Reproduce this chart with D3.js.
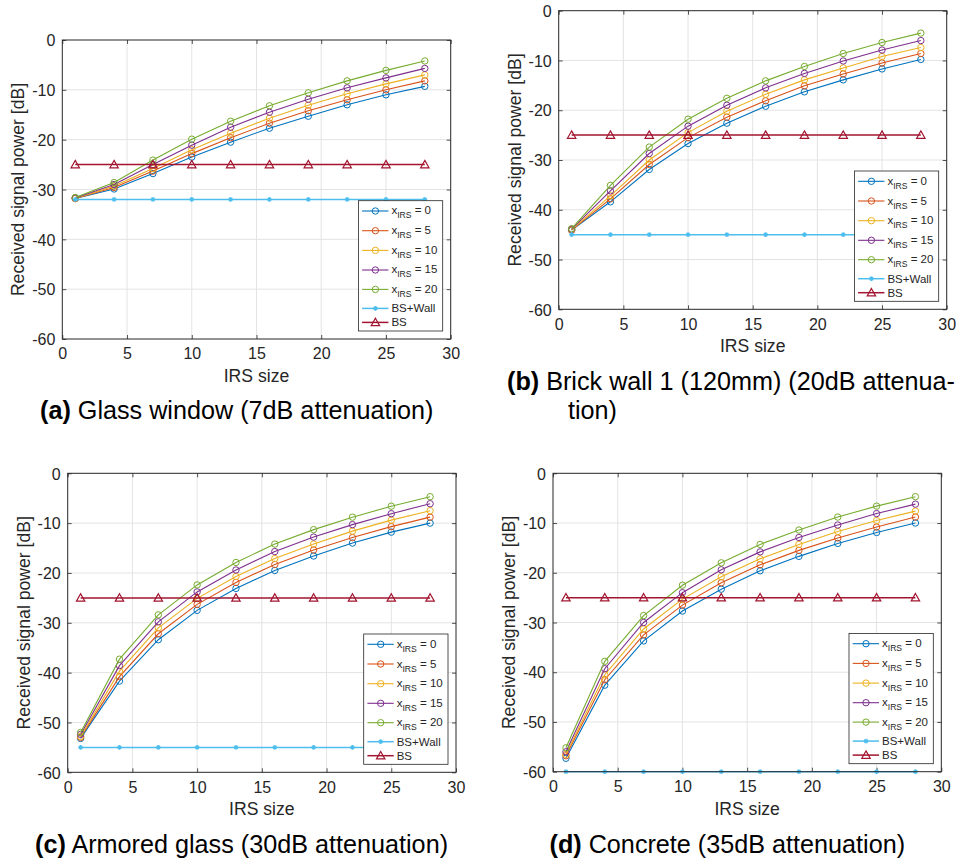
<!DOCTYPE html>
<html>
<head>
<meta charset="utf-8">
<script src="https://cdn.jsdelivr.net/npm/d3@7"></script>
<style>
  html, body { margin: 0; padding: 0; background: #fff; }
  svg { display: block; }
  text { font-family: "Liberation Sans", Arial, Helvetica, sans-serif; }
</style>
</head>
<body>
<svg id="fig" width="959" height="865"></svg>
<script>
// ---------------- data ----------------
const irsSize = [1, 4, 7, 10, 13, 16, 19, 22, 25, 28];
const xIrsValues = [0, 5, 10, 15, 20];
const xTicks = [0, 5, 10, 15, 20, 25, 30];
const yTicks = [0, -10, -20, -30, -40, -50, -60];

// (a) Glass window
const glassIrs0  = [-31.8, -29.9, -26.8, -23.5, -20.5, -17.7, -15.3, -13.0, -11.0, -9.3];
const glassIrs5  = [-31.8, -29.6, -26.3, -22.8, -19.6, -16.7, -14.2, -12.0, -10.0, -8.2];
const glassIrs10 = [-31.8, -29.3, -25.8, -22.0, -18.7, -15.7, -13.1, -10.8, -8.8, -7.0];
const glassIrs15 = [-31.7, -29.0, -25.0, -21.1, -17.5, -14.5, -11.9, -9.6, -7.6, -5.7];
const glassIrs20 = [-31.6, -28.6, -24.1, -19.9, -16.3, -13.2, -10.6, -8.2, -6.1, -4.2];
const glassWall  = [-32, -32, -32, -32, -32, -32, -32, -32, -32, -32];

// (b) Brick wall
const brickIrs0  = [-44.1, -38.4, -31.9, -26.7, -22.6, -19.2, -16.3, -13.9, -11.7, -9.8];
const brickIrs5  = [-44.1, -37.8, -30.9, -25.5, -21.4, -18.1, -15.1, -12.7, -10.5, -8.6];
const brickIrs10 = [-44.0, -37.2, -30.0, -24.5, -20.2, -16.8, -13.9, -11.5, -9.2, -7.4];
const brickIrs15 = [-43.9, -36.2, -28.7, -23.2, -19.0, -15.5, -12.6, -10.1, -7.9, -6.0];
const brickIrs20 = [-43.8, -35.1, -27.4, -21.8, -17.6, -14.1, -11.2, -8.6, -6.4, -4.5];
const brickWall  = [-45, -45, -45, -45, -45, -45, -45, -45, -45, -45];

// (c) Armored glass
const armorIrs0  = [-53.2, -41.7, -33.4, -27.5, -23.1, -19.5, -16.6, -14.0, -11.8, -10.0];
const armorIrs5  = [-53.0, -40.8, -32.2, -26.3, -21.9, -18.3, -15.4, -12.9, -10.7, -8.8];
const armorIrs10 = [-52.8, -39.7, -31.0, -25.1, -20.7, -17.1, -14.2, -11.6, -9.4, -7.5];
const armorIrs15 = [-52.4, -38.6, -29.8, -23.8, -19.4, -15.7, -12.8, -10.3, -8.1, -6.1];
const armorIrs20 = [-52.0, -37.3, -28.4, -22.4, -17.9, -14.2, -11.3, -8.8, -6.6, -4.7];
const armorWall  = [-55, -55, -55, -55, -55, -55, -55, -55, -55, -55];

// (d) Concrete
const concIrs0  = [-57.3, -42.6, -33.7, -27.7, -23.3, -19.6, -16.7, -14.1, -11.9, -10.0];
const concIrs5  = [-56.8, -41.5, -32.5, -26.5, -22.0, -18.4, -15.5, -13.0, -10.8, -8.8];
const concIrs10 = [-56.5, -40.5, -31.3, -25.3, -20.8, -17.2, -14.3, -11.7, -9.5, -7.6];
const concIrs15 = [-56.0, -39.3, -30.0, -24.0, -19.4, -15.8, -12.9, -10.4, -8.1, -6.2];
const concIrs20 = [-55.2, -37.8, -28.6, -22.5, -18.0, -14.3, -11.4, -8.8, -6.6, -4.7];
const concWall  = [-60, -60, -60, -60, -60, -60, -60, -60, -60, -60];

// BS only (no wall)
const bsOnly = [-25, -25, -25, -25, -25, -25, -25, -25, -25, -25];

const captionTags = ["(a)", "(b)", "(c)", "(d)"];
const captionTexts = [
  [" Glass window (7dB attenuation)"],
  [" Brick wall 1 (120mm) (20dB attenua-", "tion)"],
  [" Armored glass (30dB attenuation)"],
  [" Concrete (35dB attenuation)"]
];

// ---------------- styling / layout ----------------
const colors = ["#0072BD", "#D95319", "#EDB120", "#7E2F8E", "#77AC30", "#4DBEEE", "#A2142F"];
const axisColor = "#262626";
const gridColor = "#e3e3e3";

const panels = [
  { box: [62.3, 450.7, 40, 339], irs: [glassIrs0, glassIrs5, glassIrs10, glassIrs15, glassIrs20], wall: glassWall,
    cap: { x: 40, y: 419, x2: null, y2: null } },
  { box: [558.7, 946.7, 10.7, 309.3], irs: [brickIrs0, brickIrs5, brickIrs10, brickIrs15, brickIrs20], wall: brickWall,
    cap: { x: 507, y: 390, x2: 568, y2: 419 } },
  { box: [67.7, 456, 473.3, 772.3], irs: [armorIrs0, armorIrs5, armorIrs10, armorIrs15, armorIrs20], wall: armorWall,
    cap: { x: 35, y: 853, x2: null, y2: null } },
  { box: [553, 941.3, 473.3, 771.7], irs: [concIrs0, concIrs5, concIrs10, concIrs15, concIrs20], wall: concWall,
    cap: { x: 549.5, y: 853, x2: null, y2: null } }
];

const svg = d3.select("#fig");
svg.append("rect").attr("width", 959).attr("height", 865).attr("fill", "#fff");

function asterisk(g, cx, cy, r, color) {
  const a = g.append("g").attr("transform", `translate(${cx},${cy})`)
    .attr("stroke", color).attr("stroke-width", 1.3).attr("fill", "none");
  [[-r,0,r,0],[0,-r,0,r],[-r*0.7,-r*0.7,r*0.7,r*0.7],[-r*0.7,r*0.7,r*0.7,-r*0.7]].forEach(l => {
    a.append("line").attr("x1", l[0]).attr("y1", l[1]).attr("x2", l[2]).attr("y2", l[3]);
  });
}
function triangle(g, cx, cy, color) {
  g.append("path")
    .attr("d", `M${cx},${cy-4.2}L${cx+4.2},${cy+3.2}L${cx-4.2},${cy+3.2}Z`)
    .attr("fill", "none").attr("stroke", color).attr("stroke-width", 1.2);
}

panels.forEach((p, pi) => {
  const [L, R, T, B] = p.box;
  const x = d3.scaleLinear().domain([0, 30]).range([L, R]);
  const y = d3.scaleLinear().domain([-60, 0]).range([B, T]);
  const g = svg.append("g");

  // grid
  const grid = g.append("g");
  xTicks.forEach(t => {
    if (t > 0 && t < 30) grid.append("line").attr("x1", x(t)).attr("x2", x(t)).attr("y1", T).attr("y2", B)
      .attr("stroke", gridColor).attr("stroke-width", 1);
  });
  yTicks.forEach(t => {
    if (t > -60 && t < 0) grid.append("line").attr("x1", L).attr("x2", R).attr("y1", y(t)).attr("y2", y(t))
      .attr("stroke", gridColor).attr("stroke-width", 1);
  });

  // axes via d3
  const tl = 4;
  const xAxis = d3.axisBottom(x).tickValues(xTicks).tickSize(-tl).tickPadding(9).tickFormat(d3.format("d"));
  const yAxis = d3.axisLeft(y).tickValues(yTicks).tickSize(-tl).tickPadding(7).tickFormat(d => String(d));
  const xa = g.append("g").attr("transform", `translate(0,${B})`).call(xAxis);
  const ya = g.append("g").attr("transform", `translate(${L},0)`).call(yAxis);
  const xt = g.append("g").attr("transform", `translate(0,${T})`).call(d3.axisTop(x).tickValues(xTicks).tickSize(-tl).tickFormat(""));
  const yr = g.append("g").attr("transform", `translate(${R},0)`).call(d3.axisRight(y).tickValues(yTicks).tickSize(-tl).tickFormat(""));
  [xa, ya, xt, yr].forEach(a => {
    a.select(".domain").remove();
    a.selectAll("line").attr("stroke", axisColor).attr("stroke-width", 0.8);
    a.selectAll("text").attr("fill", axisColor).style("font-size", "16px")
      .style("font-family", '"Liberation Sans", Arial, sans-serif');
  });
  ya.selectAll("text").attr("dy", "0.36em");
  xa.selectAll("text").attr("dy", "0.71em");

  // curves
  const line = d3.line().x((d, i) => x(irsSize[i])).y(d => y(d));
  p.irs.forEach((s, si) => {
    g.append("path").datum(s).attr("d", line).attr("fill", "none")
      .attr("stroke", colors[si]).attr("stroke-width", 1.1);
    s.forEach((v, i) => {
      g.append("circle").attr("cx", x(irsSize[i])).attr("cy", y(v)).attr("r", 3.2)
        .attr("fill", "none").attr("stroke", colors[si]).attr("stroke-width", 1);
    });
  });
  g.append("path").datum(p.wall).attr("d", line).attr("fill", "none")
    .attr("stroke", colors[5]).attr("stroke-width", 1.5);
  p.wall.forEach((v, i) => asterisk(g, x(irsSize[i]), y(v), 2.4, colors[5]));
  g.append("path").datum(bsOnly).attr("d", line).attr("fill", "none")
    .attr("stroke", colors[6]).attr("stroke-width", 1.5);
  bsOnly.forEach((v, i) => triangle(g, x(irsSize[i]), y(v), colors[6]));

  // box
  g.append("rect").attr("x", L).attr("y", T).attr("width", R - L).attr("height", B - T)
    .attr("fill", "none").attr("stroke", axisColor).attr("stroke-width", 1);

  // axis labels
  g.append("text").attr("x", (L + R) / 2).attr("y", B + 43).attr("text-anchor", "middle")
    .attr("fill", axisColor).style("font-size", "17.6px").text("IRS size");
  g.append("text").attr("transform", `translate(${L - 38},${(T + B) / 2}) rotate(-90)`)
    .attr("text-anchor", "middle").attr("fill", axisColor).style("font-size", "17.6px")
    .text("Received signal power [dB]");

  // legend
  const lw = 84.3, lh = 130.3;
  const lx = R - 8 - lw, ly = B - 8 - lh;
  const lg = g.append("g").attr("transform", `translate(${lx},${ly})`);
  lg.append("rect").attr("width", lw).attr("height", lh).attr("fill", "#fff")
    .attr("stroke", axisColor).attr("stroke-width", 0.8);
  const rows = [10.3, 30, 49.7, 69.3, 88.7, 107.7, 121.7];
  rows.forEach((ry, ri) => {
    lg.append("line").attr("x1", 3.7).attr("x2", 30).attr("y1", ry).attr("y2", ry)
      .attr("stroke", colors[ri]).attr("stroke-width", ri < 5 ? 1.1 : 1.5);
    if (ri < 5) {
      lg.append("circle").attr("cx", 17).attr("cy", ry).attr("r", 3.2).attr("fill", "none")
        .attr("stroke", colors[ri]).attr("stroke-width", 1);
      const t = lg.append("text").attr("x", 33).attr("y", ry + 3.5).attr("fill", axisColor)
        .style("font-size", "11.5px");
      t.append("tspan").text("x");
      t.append("tspan").attr("dy", 4).style("font-size", "8.6px").text("IRS");
      t.append("tspan").attr("dy", -4).text(" = " + xIrsValues[ri]);
    } else if (ri === 5) {
      asterisk(lg, 17, ry, 2.4, colors[5]);
      lg.append("text").attr("x", 33).attr("y", ry + 4).attr("fill", axisColor)
        .style("font-size", "11.5px").text("BS+Wall");
    } else {
      triangle(lg, 17, ry, colors[6]);
      lg.append("text").attr("x", 33).attr("y", ry + 4).attr("fill", axisColor)
        .style("font-size", "11.5px").text("BS");
    }
  });

  // caption
  const cap = g.append("text").attr("x", p.cap.x).attr("y", p.cap.y).attr("fill", "#000")
    .style("font-size", "25.2px");
  cap.append("tspan").style("font-weight", "bold").text(captionTags[pi]);
  cap.append("tspan").text(captionTexts[pi][0]);
  if (captionTexts[pi].length > 1) {
    g.append("text").attr("x", p.cap.x2).attr("y", p.cap.y2).attr("fill", "#000")
      .style("font-size", "25.2px").text(captionTexts[pi][1]);
  }
});
</script>
</body>
</html>
